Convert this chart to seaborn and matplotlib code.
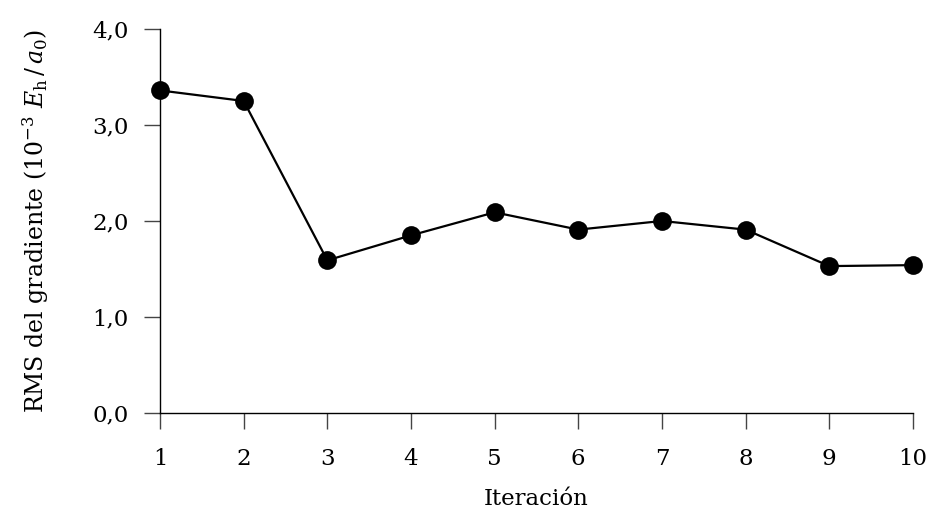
import matplotlib
matplotlib.use("Agg")
import matplotlib.pyplot as plt
import seaborn as sns
import pandas as pd

# Convergence of the RMS gradient over the optimisation iterations
iteracion = [1, 2, 3, 4, 5, 6, 7, 8, 9, 10]
rms_gradiente = [3.36, 3.25, 1.59, 1.85, 2.09, 1.91, 2.00, 1.91, 1.53, 1.54]
y_ticks = [0.0, 1.0, 2.0, 3.0, 4.0]
y_tick_labels = ["0,0", "1,0", "2,0", "3,0", "4,0"]

df = pd.DataFrame({"Iteración": iteracion, "RMS": rms_gradiente})

sns.set_theme(style="ticks")
plt.rcParams["font.family"] = ["DejaVu Serif"]
plt.rcParams["mathtext.fontset"] = "dejavuserif"

fig = plt.figure(figsize=(9.28, 5.12), dpi=100)
ax = fig.add_axes([0.1724, 0.1934, 0.8114, 0.75])

sns.lineplot(data=df, x="Iteración", y="RMS", ax=ax, color="black",
             linewidth=1.6, marker="o", markersize=13.5, markeredgewidth=0,
             markerfacecolor="black", clip_on=False)

ax.set_xlim(1, 10)
ax.set_ylim(0, 4)
ax.set_xticks(iteracion)
ax.set_xticklabels([str(i) for i in iteracion])
ax.set_yticks(y_ticks)
ax.set_yticklabels(y_tick_labels)

for side in ("top", "right"):
    ax.spines[side].set_visible(False)
for side in ("left", "bottom"):
    ax.spines[side].set_color("black")
    ax.spines[side].set_linewidth(1.0)

ax.tick_params(axis="both", direction="out", length=11.5, width=1.0,
               color="#444444", labelsize=16.5, labelcolor="black")
ax.tick_params(axis="x", pad=14)
ax.tick_params(axis="y", pad=11)

ax.set_xlabel("Iteración", fontsize=16.5, labelpad=13, color="black")
ax.set_ylabel(r"RMS del gradiente (10$^{-3}$ $E_{\mathrm{h}}\,/\,a_0$)",
              fontsize=17, labelpad=30, color="black")

fig.savefig("out.png", dpi=100, facecolor="white")
